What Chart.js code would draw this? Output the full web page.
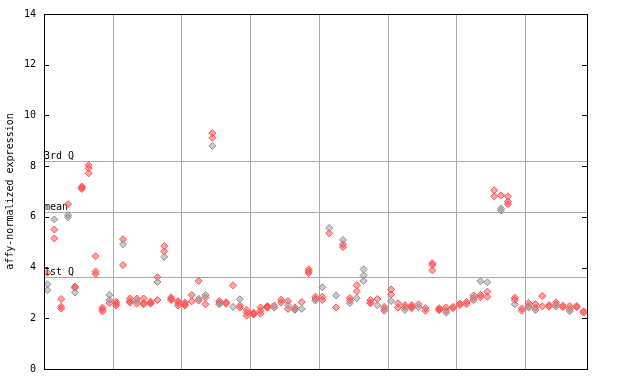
<!DOCTYPE html>
<html>
<head>
<meta charset="utf-8">
<script src="https://cdn.jsdelivr.net/npm/chart.js@4"></script>
<style>
  html, body { margin: 0; padding: 0; background: #fff; }
  #wrap { width: 640px; height: 384px; }
</style>
</head>
<body>
<div id="wrap"><canvas id="chart" width="640" height="384"></canvas></div>
<script>
// --- data (one entry per sample column) ---
const redVals = [
  [3.8], [5.5, 5.15], [2.76, 2.46, 2.38], [6.5], [3.25, 3.2], [7.2, 7.15, 7.1], [8.04, 7.92, 7.72], [4.45, 3.85, 3.75],
  [2.42, 2.35, 2.27], [2.6], [2.65, 2.57, 2.5], [5.12, 4.1], [2.78, 2.68, 2.62], [2.78, 2.58], [2.78, 2.6, 2.55], [2.66, 2.6, 2.58],
  [3.62, 2.72], [4.85, 4.64], [2.82, 2.75, 2.72], [2.68, 2.6, 2.5], [2.62, 2.55, 2.5], [2.92, 2.67], [3.47, 2.7], [2.82, 2.55],
  [9.3, 9.12], [2.68, 2.6], [2.63, 2.57], [3.3], [2.5, 2.42], [2.33, 2.22, 2.1], [2.22, 2.17, 2.15], [2.43, 2.3, 2.18],
  [2.48, 2.45, 2.42], [2.5], [2.73, 2.62], [2.68, 2.37], [2.43, 2.35], [2.64], [3.93, 3.85, 3.78], [2.85, 2.76],
  [2.85, 2.72], [5.35], [2.43], [4.92, 4.81], [2.8, 2.7], [3.3, 3.06], [], [2.72, 2.62, 2.59],
  [2.76], [2.45, 2.3], [3.14, 2.94], [2.59, 2.42], [2.52, 2.43], [2.52, 2.45, 2.4], [2.55], [2.4, 2.3],
  [4.17, 4.1, 3.89], [2.4, 2.35, 2.32], [2.43, 2.3], [2.45, 2.4], [2.58, 2.52], [2.65, 2.56], [2.9, 2.72], [2.92, 2.83],
  [3.05, 2.85], [7.05, 6.81], [6.85], [6.81, 6.6, 6.5], [2.81, 2.72], [2.39, 2.3], [2.6, 2.48], [2.56, 2.42],
  [2.88, 2.47], [2.52, 2.46], [2.62, 2.54], [2.5, 2.44], [2.48, 2.36], [2.48, 2.44], [2.28, 2.22]
];
const grayVals = [
  [3.34, 3.11], [5.9], [], [6.07, 5.98], [3.02], [], [], [],
  [], [2.92, 2.72], [], [4.92], [], [2.68], [], [],
  [3.43], [4.42], [], [], [], [], [2.77], [2.92],
  [8.8], [2.55], [], [2.45], [2.75], [], [], [],
  [], [2.42], [], [2.52], [2.33], [2.37], [], [2.7],
  [3.22], [5.56], [2.9], [5.09], [2.6], [2.79], [3.93, 3.69, 3.47], [],
  [2.51], [2.38], [2.68], [], [2.33], [], [2.44], [],
  [], [], [2.22], [], [], [], [2.81], [3.46],
  [3.42], [], [6.33, 6.25], [], [2.55], [], [2.42], [2.33],
  [], [], [2.46], [], [2.28], [], []
];
const yTicks = [0, 2, 4, 6, 8, 10, 12, 14];
const refLines = [
  { label: '3rd Q', value: 8.22 },
  { label: 'mean', value: 6.21 },
  { label: '1st Q', value: 3.62 }
];
const groupLines = [10, 20, 30, 40, 50, 60, 70];
const nCols = redVals.length;

const toPoints = vals => vals.flatMap((col, i) => col.map(v => ({ x: i + 0.5, y: v })));
const mono = 'DejaVu Sans Mono';

// --- frame: quartile lines, inward ticks, black box ---
const framePlugin = {
  id: 'frame',
  beforeDatasetsDraw(chart) {
    const { ctx, chartArea: a, scales: { x, y } } = chart;
    ctx.save();
    ctx.strokeStyle = '#aaaaaa';
    ctx.lineWidth = 1;
    groupLines.forEach(g => {
      const px = Math.round(x.getPixelForValue(g)) + 0.5;
      ctx.beginPath(); ctx.moveTo(px, a.top); ctx.lineTo(px, a.bottom); ctx.stroke();
    });
    refLines.forEach(r => {
      const py = Math.round(y.getPixelForValue(r.value)) + 0.5;
      ctx.beginPath(); ctx.moveTo(a.left, py); ctx.lineTo(a.right, py); ctx.stroke();
    });
    ctx.fillStyle = '#000';
    ctx.font = '10px "' + mono + '"';
    ctx.textBaseline = 'bottom';
    ctx.textAlign = 'left';
    refLines.forEach(r => {
      const py = Math.round(y.getPixelForValue(r.value));
      ctx.fillText(r.label, a.left, py);
    });
    ctx.restore();
  },
  afterDraw(chart) {
    const { ctx, chartArea: a, scales: { y } } = chart;
    ctx.save();
    ctx.strokeStyle = '#000';
    ctx.lineWidth = 1;
    ctx.strokeRect(Math.round(a.left) + 0.5, Math.round(a.top) + 0.5,
      Math.round(a.right - a.left), Math.round(a.bottom - a.top));
    yTicks.forEach(t => {
      const py = Math.round(y.getPixelForValue(t)) + 0.5;
      ctx.beginPath();
      ctx.moveTo(a.left, py); ctx.lineTo(a.left + 5, py);
      ctx.moveTo(a.right - 5, py); ctx.lineTo(a.right, py);
      ctx.stroke();
    });
    ctx.restore();
  }
};

new Chart(document.getElementById('chart'), {
  type: 'scatter',
  data: {
    datasets: [
      {
        label: 'gray',
        data: toPoints(grayVals),
        pointStyle: 'rectRot',
        radius: 3.5,
        borderWidth: 1,
        borderColor: '#909090',
        backgroundColor: 'rgba(150,150,150,0.5)'
      },
      {
        label: 'red',
        data: toPoints(redVals),
        pointStyle: 'rectRot',
        radius: 3.5,
        borderWidth: 1,
        borderColor: '#ff5050',
        backgroundColor: 'rgba(255,80,80,0.5)'
      }
    ]
  },
  options: {
    responsive: false,
    animation: false,
    layout: { padding: { left: 0, top: 14, right: 53, bottom: 15 } },
    plugins: { legend: { display: false }, tooltip: { enabled: false } },
    scales: {
      x: {
        type: 'linear',
        min: 0,
        max: nCols,
        grid: { display: false, drawTicks: false },
        border: { display: false },
        ticks: { display: false },
        afterFit: s => { s.height = 0; }
      },
      y: {
        min: 0,
        max: 14,
        afterBuildTicks: s => { s.ticks = yTicks.map(v => ({ value: v })); },
        grid: { display: false, drawTicks: false },
        border: { display: false },
        ticks: { color: '#000', padding: 8, font: { family: mono, size: 10 } },
        title: {
          display: true,
          text: 'affy-normalized expression',
          color: '#000',
          padding: { top: 4, bottom: 0 },
          font: { family: mono, size: 10 }
        },
        afterFit: s => { s.width = 44; }
      }
    }
  },
  plugins: [framePlugin]
});
</script>
</body>
</html>
